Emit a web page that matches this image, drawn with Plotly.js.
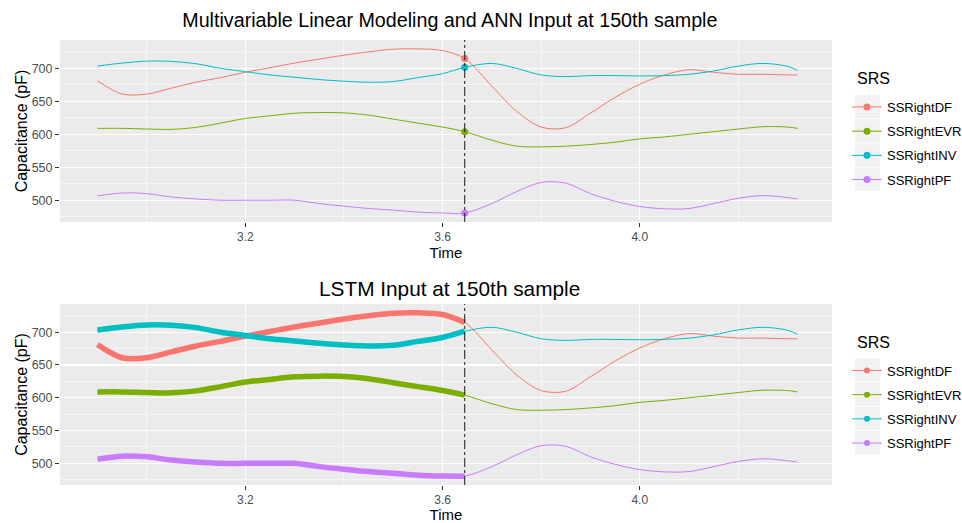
<!DOCTYPE html>
<html><head><meta charset="utf-8">
<script src="https://cdn.plot.ly/plotly-3.0.1.min.js"></script>
<style>html,body{margin:0;padding:0;background:#fff}#chart{width:962px;height:523px}</style>
</head><body><div id="chart"></div>
<script>
// ---- data ----
const time = [2.90, 2.95, 3.00, 3.05, 3.10, 3.15, 3.20, 3.25, 3.30, 3.35, 3.40, 3.45, 3.50, 3.55, 3.60, 3.645,
              3.70, 3.75, 3.80, 3.85, 3.90, 3.95, 4.00, 4.05, 4.10, 4.15, 4.20, 4.25, 4.30, 4.32];
const seriesNames = ['SSRightDF', 'SSRightEVR', 'SSRightINV', 'SSRightPF'];
const ssRightDF  = [681, 661, 661, 670, 679, 686, 694, 701, 708, 714, 720, 725, 729, 729.5, 727, 715,
                    673, 635, 611, 610, 632, 656, 676, 690, 698, 694, 691, 691, 690, 690];
const ssRightEVR = [609, 609, 608, 607.5, 610.5, 617, 624, 628, 632, 633, 632.5, 629, 623, 617, 611, 604,
                    591, 582, 581, 582, 584.5, 588, 593, 596, 600, 604, 608, 611.5, 611, 609];
const ssRightINV = [703.5, 708, 711, 710.5, 707, 700, 695, 690, 686.5, 683, 680.5, 679, 680, 686, 692, 701.5,
                    707.5, 700, 690, 687.5, 689, 689, 688.5, 689, 691, 696, 703.5, 707.5, 703, 697];
const ssRightPF  = [506.5, 511, 510, 505, 502, 500, 500, 500, 500, 495, 491, 487.5, 485, 482, 480.7, 480.5,
                    495, 513, 527, 526, 510, 498.5, 490.5, 487, 487.5, 495, 503, 507, 504, 502];
const sampleTime = 3.645;              // 150th sample
const xTickVals = [3.2, 3.6, 4.0];
const xTickText = ['3.2', '3.6', '4.0'];
const xMinorVals = [3.0, 3.4, 3.8, 4.2];
const yTickVals = [500, 550, 600, 650, 700];
const yMinorVals = [475, 525, 575, 625, 675, 725];
const titleTop = 'Multivariable Linear Modeling and ANN Input at 150th sample';
const titleBottom = 'LSTM Input at 150th sample';
const legendTitle = 'SRS';

// ---- styling ----
const colors = ['#F8766D', '#7CAE00', '#00BFC4', '#C77CFF'];
const FONT = '"Liberation Sans", Arial, sans-serif';
const allSeries = [ssRightDF, ssRightEVR, ssRightINV, ssRightPF];
const idx = time.indexOf(sampleTime);

const traces = [];
allSeries.forEach((vals, i) => {
  traces.push({x: time, y: vals, xaxis: 'x', yaxis: 'y', mode: 'lines', showlegend: false,
    line: {color: colors[i], width: 1, shape: 'spline', smoothing: 0.9}, hoverinfo: 'skip'});
});
allSeries.forEach((vals, i) => {
  traces.push({x: [time[idx]], y: [vals[idx]], xaxis: 'x', yaxis: 'y', mode: 'lines+markers',
    name: seriesNames[i], legend: 'legend', legendgroup: 'a' + i,
    line: {color: colors[i], width: 1}, marker: {color: colors[i], size: 7}});
});
allSeries.forEach((vals, i) => {
  traces.push({x: time, y: vals, xaxis: 'x2', yaxis: 'y2', mode: 'lines', showlegend: false,
    line: {color: colors[i], width: 1, shape: 'spline', smoothing: 0.9}, hoverinfo: 'skip'});
});
allSeries.forEach((vals, i) => {
  traces.push({x: time.slice(0, idx + 1), y: vals.slice(0, idx + 1), xaxis: 'x2', yaxis: 'y2',
    mode: 'lines', showlegend: false,
    line: {color: colors[i], width: 5.5, shape: 'spline', smoothing: 0.9}, hoverinfo: 'skip'});
});
allSeries.forEach((vals, i) => {
  traces.push({x: [null], y: [null], xaxis: 'x2', yaxis: 'y2', mode: 'lines+markers',
    name: seriesNames[i], legend: 'legend2', legendgroup: 'b' + i,
    line: {color: colors[i], width: 1}, marker: {color: colors[i], size: 6}});
});

const xAxisBase = {
  range: [2.824, 4.39], tickvals: xTickVals, ticktext: xTickText,
  ticks: 'outside', ticklen: 4, tickwidth: 1, tickcolor: '#333333',
  tickfont: {family: FONT, size: 12, color: '#4D4D4D'},
  showgrid: true, gridcolor: '#FFFFFF', gridwidth: 1.1, zeroline: false, showline: false,
  minor: {tickvals: xMinorVals, showgrid: true, gridcolor: '#FFFFFF', gridwidth: 0.5, ticks: ''},
  title: {text: 'Time', font: {family: FONT, size: 15, color: '#000000'}, standoff: 4}
};
const yAxisBase = {
  range: [467, 743], tickvals: yTickVals,
  ticks: 'outside', ticklen: 4, tickwidth: 1, tickcolor: '#333333',
  tickfont: {family: FONT, size: 12.5, color: '#4D4D4D'},
  showgrid: true, gridcolor: '#FFFFFF', gridwidth: 1.1, zeroline: false, showline: false,
  minor: {tickvals: yMinorVals, showgrid: true, gridcolor: '#FFFFFF', gridwidth: 0.5, ticks: ''},
  title: {text: 'Capacitance (pF)', font: {family: FONT, size: 16, color: '#000000'}, standoff: 0}
};
const plotH = 523 - 40 - 38, plotW = 962 - 60 - 130;
const legendBase = {
  xanchor: 'left', yanchor: 'top', x: (847 - 60) / plotW, bgcolor: 'rgba(0,0,0,0)',
  traceorder: 'grouped', tracegroupgap: 4.3, itemwidth: 30,
  font: {family: FONT, size: 13, color: '#000000'}
};

// grey legend key boxes (paper coordinates)
const shapes = [];
function keyBoxes(topPx) {
  for (let k = 0; k < 4; k++) {
    const y0 = topPx + k * 24.2, y1 = y0 + 23.2;
    shapes.push({type: 'rect', xref: 'paper', yref: 'paper', layer: 'below',
      x0: (855 - 60) / plotW, x1: (880 - 60) / plotW,
      y0: (485 - y1) / plotH, y1: (485 - y0) / plotH,
      fillcolor: '#F2F2F2', line: {width: 0}});
  }
}
keyBoxes(95); keyBoxes(358.5);
['y', 'y2'].forEach(yr => shapes.push({type: 'line', xref: 'x' + (yr === 'y' ? '' : '2'), yref: yr + ' domain',
  x0: sampleTime, x1: sampleTime, y0: 0, y1: 1, line: {color: '#1A1A1A', width: 1, dash: 'dashdot'}}));

function srsTitle(centerPx) {
  return {text: legendTitle, xref: 'paper', yref: 'paper', x: (855 - 60) / plotW, xanchor: 'left',
    y: (485 - centerPx) / plotH, yanchor: 'middle', showarrow: false,
    font: {family: FONT, size: 16, color: '#000000'}};
}

const layout = {
  width: 962, height: 523, paper_bgcolor: '#FFFFFF', plot_bgcolor: '#EBEBEB',
  margin: {l: 60, r: 130, t: 40, b: 38, autoexpand: false},
  font: {family: FONT},
  showlegend: true,
  title: {text: titleTop, font: {family: FONT, size: 19.7, color: '#000000'},
    xref: 'paper', x: 0.505, xanchor: 'center', yref: 'container', y: 1 - 20 / 523, yanchor: 'middle'},
  xaxis: Object.assign({}, xAxisBase, {domain: [0, 1], anchor: 'y'}),
  yaxis: Object.assign({}, yAxisBase, {domain: [(485 - 222) / plotH, 1], anchor: 'x'}),
  xaxis2: Object.assign({}, xAxisBase, {domain: [0, 1], anchor: 'y2'}),
  yaxis2: Object.assign({}, yAxisBase, {domain: [0, (485 - 304) / plotH], anchor: 'x2'}),
  legend: Object.assign({}, legendBase, {y: (485 - 92) / plotH}),
  legend2: Object.assign({}, legendBase, {y: (485 - 355.5) / plotH}),
  annotations: [
    {text: titleBottom, xref: 'paper', yref: 'paper', x: 0.505, xanchor: 'center',
      y: (485 - 288) / plotH, yanchor: 'middle', showarrow: false,
      font: {family: FONT, size: 20.8, color: '#000000'}},
    srsTitle(78), srsTitle(343)
  ],
  shapes: shapes
};

Plotly.newPlot('chart', traces, layout, {displayModeBar: false, staticPlot: true});
</script>
</body></html>
